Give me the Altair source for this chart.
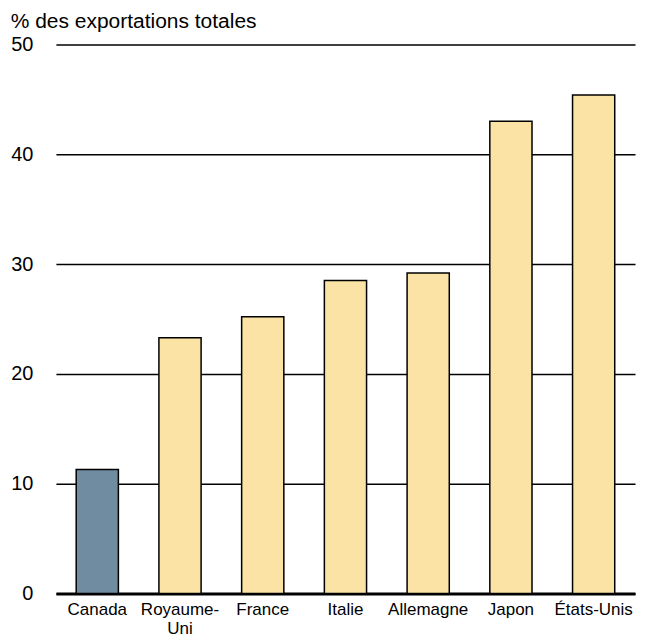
import altair as alt
import pandas as pd

countries = ["Canada", "Royaume-Uni", "France", "Italie", "Allemagne", "Japon", "États-Unis"]
values = [11.3, 23.3, 25.2, 28.5, 29.2, 43.0, 45.4]
colors = ["#6F8CA0", "#FAE3A5", "#FAE3A5", "#FAE3A5", "#FAE3A5", "#FAE3A5", "#FAE3A5"]

df = pd.DataFrame({"pays": countries, "valeur": values, "couleur": colors})

font = "Liberation Sans"

bars = alt.Chart(df).mark_bar(stroke="black", strokeWidth=1.5).encode(
    x=alt.X("pays:N", sort=countries,
            scale=alt.Scale(paddingInner=0.49, paddingOuter=0.245),
            axis=alt.Axis(title=None, labelAngle=0, domainColor="black", domainWidth=3,
                          ticks=False, labelPadding=8, labelFontSize=17, labelFont=font,
                          labelColor="black", labelLineHeight=19,
                          labelExpr="datum.label == 'Royaume-Uni' ? ['Royaume-', 'Uni'] : datum.label")),
    y=alt.Y("valeur:Q", scale=alt.Scale(domain=[0, 50]),
            axis=alt.Axis(title=None, values=[0, 10, 20, 30, 40, 50], grid=True,
                          gridColor="black", gridWidth=1.5, gridOpacity=1,
                          domain=False, ticks=False, labelPadding=23, labelFontSize=20,
                          labelFont=font, labelColor="black")),
    fill=alt.Fill("couleur:N", scale=None),
)

chart = bars.properties(
    width=580, height=550,
    title=alt.TitleParams("% des exportations totales", anchor="start", fontSize=21,
                          font=font, fontWeight="normal", color="black", offset=2),
    padding={"left": 2, "top": 3, "right": 2, "bottom": 2},
).configure_view(stroke=None)

chart.save("out.html", embed_options={"renderer": "svg", "actions": False})
